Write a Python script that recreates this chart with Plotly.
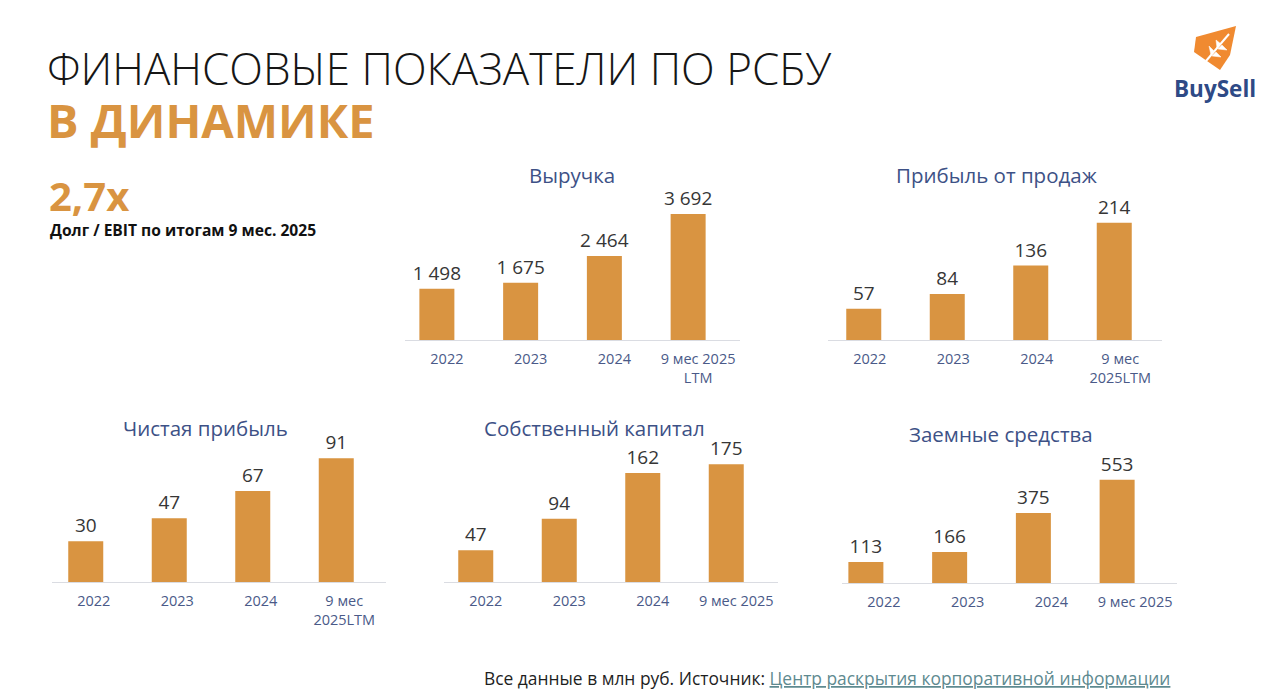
import plotly.graph_objects as go

W, H = 1280, 695

years = ["2022", "2023", "2024", "9 мес 2025"]

revenue = [1498, 1675, 2464, 3692]
sales_profit = [57, 84, 136, 214]
net_profit = [30, 47, 67, 91]
equity = [47, 94, 162, 175]
borrowed = [113, 166, 375, 553]

ticks_revenue = ["2022", "2023", "2024", "9 мес 2025<br>LTM"]
ticks_ltm = ["2022", "2023", "2024", "9 мес<br>2025LTM"]
ticks_plain = ["2022", "2023", "2024", "9 мес 2025"]

ORANGE = "#D99441"
TITLE_BLUE = "#3D5186"
TICK_BLUE = "#4A5A88"
FONT = "Open Sans"


def fx(px):
    return px / W


def fy(px):
    return 1 - px / H


def fmt(v):
    return f"{v:,}".replace(",", " ")


# title, values, tick texts, axis left/right px, baseline px, top px, y max, bar shift px, title pos
panels = [
    ("Выручка", revenue, ticks_revenue, 405, 740, 340, 190, 4395, 10, (572, 175)),
    ("Прибыль от продаж", sales_profit, ticks_ltm, 828, 1162, 340, 190, 274, 6, (996, 175)),
    ("Чистая прибыль", net_profit, ticks_ltm, 52, 386, 582, 440, 104.5, 8, (205, 428)),
    ("Собственный капитал", equity, ticks_plain, 444, 778, 582, 440, 211, 10, (594, 428)),
    ("Заемные средства", borrowed, ticks_plain, 842, 1177, 583, 440, 765, 18, (1001, 434)),
]

fig = go.Figure()
annotations = []

for i, (title, vals, ticks, x0, x1, base, top, ymax, shift, tpos) in enumerate(panels, start=1):
    cat_w = (x1 - x0) / 4
    bw = 35 / cat_w
    fig.add_trace(go.Bar(
        x=years, y=vals,
        xaxis=f"x{i}", yaxis=f"y{i}",
        width=bw, offset=-bw / 2 - shift / cat_w,
        marker=dict(color=ORANGE, line=dict(width=0)),
        text=[fmt(v) for v in vals],
        textposition="outside",
        constraintext="none",
        cliponaxis=False,
        textfont=dict(family=FONT, size=19, color="#363636"),
        showlegend=False,
        hoverinfo="skip",
    ))
    fig.update_layout({
        f"xaxis{i}": dict(
            domain=[fx(x0), fx(x1)], anchor=f"y{i}", type="category",
            range=[-0.5, 3.5], showline=True, linecolor="#DADCE2", linewidth=1,
            showgrid=False, zeroline=False, ticks="", ticklabelstandoff=6,
            tickvals=years, ticktext=ticks,
            tickfont=dict(family=FONT, size=14.5, color=TICK_BLUE),
        ),
        f"yaxis{i}": dict(
            domain=[fy(base), fy(top)], anchor=f"x{i}", range=[0, ymax],
            visible=False, showgrid=False, zeroline=False,
        ),
    })
    annotations.append(dict(
        text=title, x=fx(tpos[0]), y=fy(tpos[1]),
        xanchor="center", yanchor="middle",
        font=dict(family=FONT, size=20.5, color=TITLE_BLUE),
    ))

annotations += [
    dict(text="ФИНАНСОВЫЕ ПОКАЗАТЕЛИ ПО РСБУ", x=fx(45), y=fy(68),
         xanchor="left", yanchor="middle",
         font=dict(family=FONT, size=44, color="#161616", weight=300)),
    dict(text="<b>В ДИНАМИКЕ</b>", x=fx(45), y=fy(120),
         xanchor="left", yanchor="middle",
         font=dict(family=FONT, size=47, color=ORANGE)),
    dict(text="<b>2,7x</b>", x=fx(47), y=fy(196),
         xanchor="left", yanchor="middle",
         font=dict(family=FONT, size=40, color=ORANGE)),
    dict(text="<b>Долг / EBIT по итогам 9 мес. 2025</b>", x=fx(48), y=fy(230),
         xanchor="left", yanchor="middle",
         font=dict(family=FONT, size=15.6, color="#111111")),
    dict(text="<b>BuySell</b>", x=fx(1215), y=fy(88),
         xanchor="center", yanchor="middle",
         font=dict(family=FONT, size=22.5, color="#2E4A86")),
    dict(text="Все данные в млн руб. Источник: "
              "<span style='color:#5E8A90'><u>Центр раскрытия корпоративной информации</u></span>",
         x=fx(1172), y=fy(678), xanchor="right", yanchor="middle",
         font=dict(family=FONT, size=17.4, color="#1E1E1E")),
]
for a in annotations:
    a.setdefault("xref", "paper")
    a.setdefault("yref", "paper")
    a.setdefault("showarrow", False)


def path(points, close=True):
    d = "M " + " L ".join(f"{fx(px)},{fy(py)}" for px, py in points)
    return d + (" Z" if close else "")


# logo mark: orange shield with a white wheat ear
logo_shape = [(1196, 37), (1236, 26), (1230, 55), (1220, 70), (1194, 52)]
stem = [(1206, 61), (1229, 34)]
grains = [
    [(1211, 55), (1209, 46), (1214, 51)],
    [(1217, 48), (1216, 40), (1221, 44)],
    [(1212, 56), (1221, 57), (1216, 52)],
    [(1218, 49), (1227, 50), (1222, 45)],
]

shapes = [
    dict(type="path", xref="paper", yref="paper", path=path(logo_shape),
         fillcolor="#F08A30", line=dict(width=0)),
    dict(type="path", xref="paper", yref="paper", path=path(stem, close=False),
         line=dict(color="white", width=2)),
]
for g in grains:
    shapes.append(dict(type="path", xref="paper", yref="paper", path=path(g),
                       fillcolor="white", line=dict(color="white", width=0.5)))

fig.update_layout(
    width=W, height=H,
    margin=dict(l=0, r=0, t=0, b=0),
    paper_bgcolor="white", plot_bgcolor="white",
    annotations=annotations,
    shapes=shapes,
)

fig.write_html("out.html", config={"displayModeBar": False},
               post_script="document.body.style.margin='0';")
